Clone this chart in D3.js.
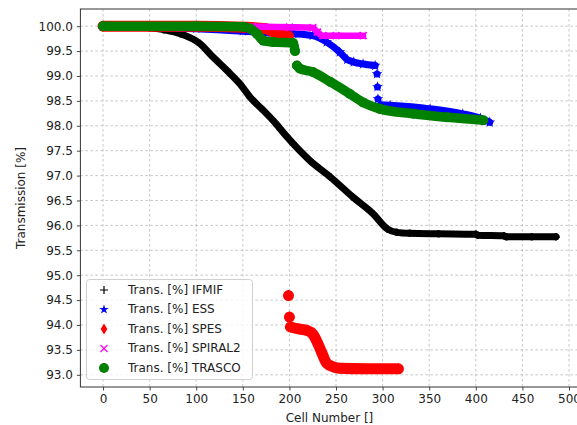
<!DOCTYPE html>
<html>
<head>
<meta charset="utf-8">
<script src="https://cdn.jsdelivr.net/npm/d3@7"></script>
<style>
  html, body { margin: 0; padding: 0; background: #fff; }
  svg { display: block; }
  text { font-family: "DejaVu Sans", sans-serif; fill: #222; }
</style>
</head>
<body>
<script>
// ---------------- data ----------------
const xTicks = [0, 50, 100, 150, 200, 250, 300, 350, 400, 450, 500];
const yTicks = [93.0, 93.5, 94.0, 94.5, 95.0, 95.5, 96.0, 96.5, 97.0, 97.5, 98.0, 98.5, 99.0, 99.5, 100.0];

const seriesNames = ["Trans. [%] IFMIF", "Trans. [%] ESS", "Trans. [%] SPES", "Trans. [%] SPIRAL2", "Trans. [%] TRASCO"];

// null = gap (isolated markers)
const ifmifCell = [0, 30, 50, 65, 83, 104, 118, 133, 147, 158, 172, 187, 190, 204, 222, 244, 268, 290, 305, 315, 329, 360, 400, 402, 430, 433, 460, 486];
const ifmifVal  = [100.0, 99.99, 99.97, 99.93, 99.85, 99.65, 99.38, 99.11, 98.84, 98.57, 98.31, 98.01, 97.94, 97.64, 97.30, 96.97, 96.57, 96.23, 95.93, 95.86, 95.84, 95.83, 95.82, 95.80, 95.79, 95.77, 95.77, 95.77];

const essCell = [0, 50, 100, 150, 175, 204, 225, 240, 254, 262, 269, 279, 292, null, 294, null, 294.5, null, 295, null, 298, 308, 351, 386, 405, 415];
const essVal  = [100.0, 99.98, 99.95, 99.9, 99.87, 99.85, 99.81, 99.68, 99.48, 99.33, 99.28, 99.24, 99.21, null, 99.04, null, 98.78, null, 98.54, null, 98.42, 98.41, 98.34, 98.24, 98.15, 98.07];

const spesCell = [0, 100, 150, 175, 185, 195, 199, null, 199, null, 200, null, 201, 210, 219, 225, 229, 235, 240, 247, 254, 280, 317];
const spesVal  = [100.0, 100.0, 99.98, 99.95, 99.86, 99.82, 99.8, null, 94.59, null, 94.16, null, 93.96, 93.92, 93.89, 93.82, 93.69, 93.43, 93.23, 93.16, 93.13, 93.12, 93.12];

const spiral2Cell = [0, 100, 160, 200, 225, 230, 236, 250, 279];
const spiral2Val  = [100.0, 100.0, 99.99, 99.98, 99.97, 99.88, 99.81, 99.81, 99.81];

const trascoCell = [0, 100, 150, 158, 165, 172, 183, 204, 206, null, 208, 211, 225, 244, 265, 279, 297, 333, 369, 408];
const trascoVal  = [100.0, 100.0, 99.99, 99.95, 99.85, 99.71, 99.68, 99.66, 99.5, null, 99.21, 99.15, 99.08, 98.88, 98.64, 98.47, 98.34, 98.24, 98.17, 98.11];

// ---------------- layout ----------------
const W = 577, H = 425;
const plot = { left: 80.4, right: 578.6, top: 9, bottom: 387 };

const x = d3.scaleLinear().domain([-24.3, 510.3]).range([plot.left, plot.right]);
const y = d3.scaleLinear().domain([92.755, 100.345]).range([plot.bottom, plot.top]);

const svg = d3.select("body").append("svg").attr("width", W).attr("height", H);

svg.append("defs").append("clipPath").attr("id", "clip")
  .append("rect").attr("x", plot.left).attr("y", plot.top)
  .attr("width", plot.right - plot.left).attr("height", plot.bottom - plot.top);

// grid
const grid = svg.append("g");
grid.selectAll("line.gx").data(xTicks).join("line")
  .attr("x1", d => x(d)).attr("x2", d => x(d))
  .attr("y1", plot.top).attr("y2", plot.bottom)
  .attr("stroke", "#b8b8b8").attr("stroke-width", 0.8).attr("stroke-dasharray", "2.5,2.5");
grid.selectAll("line.gy").data(yTicks).join("line")
  .attr("y1", d => y(d)).attr("y2", d => y(d))
  .attr("x1", plot.left).attr("x2", plot.right)
  .attr("stroke", "#b8b8b8").attr("stroke-width", 0.8).attr("stroke-dasharray", "2.5,2.5");

// axes
const xAxis = d3.axisBottom(x).tickValues(xTicks).tickFormat(d3.format("d")).tickSize(3.5).tickPadding(4);
const yAxis = d3.axisLeft(y).tickValues(yTicks).tickFormat(d3.format(".1f")).tickSize(3.5).tickPadding(4);

const gx = svg.append("g").attr("transform", `translate(0,${plot.bottom})`).call(xAxis);
const gy = svg.append("g").attr("transform", `translate(${plot.left},0)`).call(yAxis);
[gx, gy].forEach(g => {
  g.select(".domain").remove();
  g.selectAll(".tick line").attr("stroke", "#333").attr("stroke-width", 0.9);
  g.selectAll(".tick text").attr("font-family", "DejaVu Sans").attr("font-size", 12).attr("fill", "#333");
});

// series
function toPts(cells, vals) {
  return cells.map((c, i) => (c === null ? null : [c, vals[i]]));
}
const line = d3.line().defined(d => d !== null).x(d => x(d[0])).y(d => y(d[1])).curve(d3.curveMonotoneX);

function markerPath(type, s) {
  const h = s / 2;
  if (type === "plus") return `M${-h},0L${h},0M0,${-h}L0,${h}`;
  if (type === "x") return `M${-h},${-h}L${h},${h}M${-h},${h}L${h},${-h}`;
  if (type === "diamond") return `M0,${-h}L${h * 0.6},0L0,${h}L${-h * 0.6},0Z`;
  if (type === "star") return d3.symbol(d3.symbolStar, s * s * 0.45)();
  if (type === "circle") return d3.symbol(d3.symbolCircle, Math.PI * h * h)();
}

const series = [
  { name: seriesNames[0], pts: toPts(ifmifCell, ifmifVal), color: "#000000", band: 7, marker: "plus", ms: 7.5, msw: 2.2 },
  { name: seriesNames[1], pts: toPts(essCell, essVal), color: "#0000ff", band: 7, marker: "star", ms: 9, msw: 0 },
  { name: seriesNames[2], pts: toPts(spesCell, spesVal), color: "#ff0000", band: 11, marker: "diamond", ms: 11.5, msw: 0 },
  { name: seriesNames[3], pts: toPts(spiral2Cell, spiral2Val), color: "#ff00ff", band: 6.5, marker: "x", ms: 7, msw: 2 },
  { name: seriesNames[4], pts: toPts(trascoCell, trascoVal), color: "#008000", band: 9.5, marker: "circle", ms: 10, msw: 0 }
];

const data = svg.append("g").attr("clip-path", "url(#clip)");
series.forEach(s => {
  data.append("path").attr("d", line(s.pts))
    .attr("fill", "none").attr("stroke", s.color).attr("stroke-width", s.band)
    .attr("stroke-linejoin", "round").attr("stroke-linecap", "round");
  const lineMarker = s.marker === "plus" || s.marker === "x";
  data.selectAll(null).data(s.pts.filter(p => p !== null)).join("path")
    .attr("transform", p => `translate(${x(p[0])},${y(p[1])})`)
    .attr("d", markerPath(s.marker, s.ms))
    .attr("fill", lineMarker ? "none" : s.color)
    .attr("stroke", s.color)
    .attr("stroke-width", lineMarker ? s.msw : 0);
});

// frame
svg.append("rect").attr("x", plot.left).attr("y", plot.top)
  .attr("width", plot.right - plot.left).attr("height", plot.bottom - plot.top)
  .attr("fill", "none").attr("stroke", "#333").attr("stroke-width", 1);

// axis labels
svg.append("text").attr("x", (plot.left + plot.right) / 2).attr("y", 418)
  .attr("text-anchor", "middle").attr("dominant-baseline", "middle")
  .attr("font-size", 12).attr("fill", "#333").text("Cell Number []");
svg.append("text").attr("transform", `translate(21,${(plot.top + plot.bottom) / 2}) rotate(-90)`)
  .attr("text-anchor", "middle").attr("dominant-baseline", "middle")
  .attr("font-size", 12).attr("fill", "#333").text("Transmission  [%]");

// legend
const leg = svg.append("g");
leg.append("rect").attr("x", 86.5).attr("y", 279.5).attr("width", 166).attr("height", 100)
  .attr("rx", 3).attr("fill", "#fff").attr("fill-opacity", 0.8)
  .attr("stroke", "#d0d0d0").attr("stroke-width", 1);
const legY = [290, 309.5, 329, 348.5, 368];
const legMs = [8, 8, 11, 7, 10];
const legSw = [1.2, 0, 0, 1.2, 0];
series.forEach((s, i) => {
  const lineMarker = s.marker === "plus" || s.marker === "x";
  leg.append("path").attr("transform", `translate(104,${legY[i]})`)
    .attr("d", markerPath(s.marker, legMs[i]))
    .attr("fill", lineMarker ? "none" : s.color)
    .attr("stroke", s.color).attr("stroke-width", legSw[i]);
  leg.append("text").attr("x", 128).attr("y", legY[i])
    .attr("dominant-baseline", "middle").attr("font-size", 12).attr("fill", "#333")
    .text(s.name);
});
</script>
</body>
</html>
